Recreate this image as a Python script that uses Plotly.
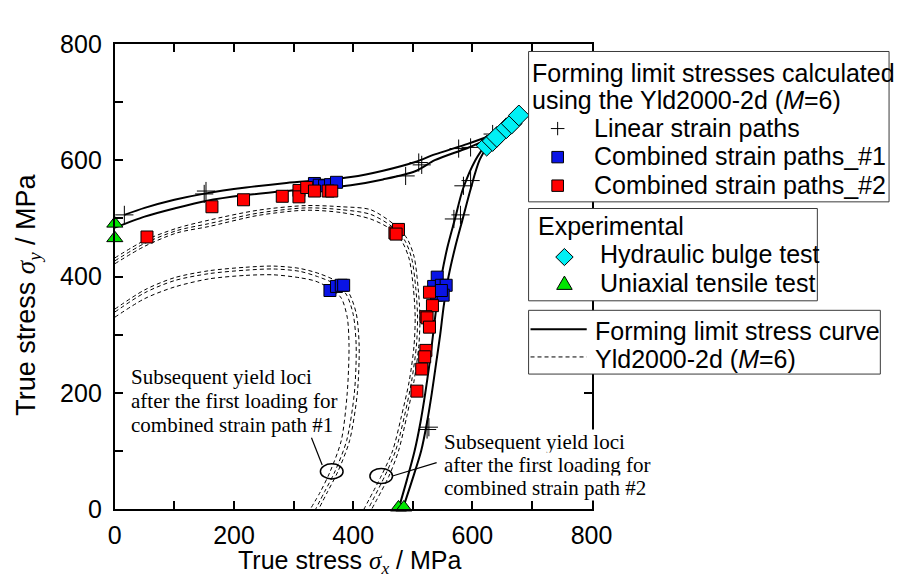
import plotly.graph_objects as go

W, H = 904, 578

# ---------------- data (MPa) ----------------
# Forming limit stress curves (two computed curves), split into the
# plane-strain-side branch and the uniaxial-side branch
flsc1_upper_x = [16, 50, 100, 153, 220, 288, 350, 396, 450, 504, 537, 592, 638]
flsc1_upper_y = [506, 518, 532, 543, 553, 561, 566, 571, 582, 597, 610, 628, 645]
flsc1_right_x = [638, 612, 597, 584, 571, 560, 552, 546, 539, 532, 524, 514, 499, 483]
flsc1_right_y = [645, 600, 550, 500, 450, 400, 350, 300, 250, 200, 150, 100, 50, 0]

flsc2_upper_x = [0, 50, 100, 153, 220, 288, 350, 396, 450, 504, 537, 592, 630]
flsc2_upper_y = [484, 503, 517, 530, 540, 547, 552, 557, 567, 581, 600, 621, 638]
flsc2_right_x = [630, 605, 584, 571, 558, 548, 540, 534, 528, 521, 513, 503, 490, 476]
flsc2_right_y = [638, 600, 550, 500, 450, 400, 350, 300, 250, 200, 150, 100, 50, 0]

# Subsequent yield loci after first loading, combined strain path #1
loc1a_x = [0, 50, 100, 158, 220, 266, 310, 337, 364, 380, 390, 393, 390, 380, 361, 345, 328]
loc1a_y = [330, 362, 382, 396, 402, 403, 398, 392, 378, 363, 330, 281, 200, 118, 64, 30, 0]
loc1b_x = [0, 50, 100, 158, 220, 266, 310, 340, 368, 388, 400, 405, 402, 389, 369, 352, 337]
loc1b_y = [339, 372, 393, 405, 411, 413, 409, 400, 388, 370, 335, 281, 200, 118, 64, 30, 0]
loc1c_x = [0, 50, 100, 158, 220, 266, 310, 343, 372, 392, 405, 410, 407, 394, 374, 357, 342]
loc1c_y = [344, 377, 398, 410, 416, 418, 414, 405, 392, 373, 337, 281, 200, 118, 64, 30, 0]

# Subsequent yield loci after first loading, combined strain path #2
loc2a_x = [0, 50, 104, 158, 240, 320, 380, 429, 462, 482, 494, 501, 504, 502, 494, 481, 466, 447, 418]
loc2a_y = [422, 452, 475, 486, 505, 514, 510, 499, 482, 460, 430, 380, 330, 280, 220, 160, 100, 57, 0]
loc2b_x = [0, 50, 104, 158, 240, 320, 380, 429, 465, 486, 498, 505, 508, 506, 498, 486, 471, 453, 425]
loc2b_y = [427, 457, 479, 491, 509, 518, 515, 507, 486, 463, 432, 380, 330, 280, 220, 160, 100, 57, 0]
loc2c_x = [0, 50, 104, 158, 240, 320, 380, 429, 468, 490, 502, 509, 512, 510, 502, 490, 476, 460, 431]
loc2c_y = [432, 462, 483, 497, 514, 522, 520, 515, 490, 466, 435, 380, 330, 280, 220, 160, 100, 57, 0]

# Forming limit stresses (calculated)
linear_x = [16, 150, 153, 488, 510, 515, 577, 597, 634, 585, 597, 569, 580, 524, 527, 467]
linear_y = [506, 542, 547, 573, 596, 592, 620, 622, 645, 556, 565, 499, 506, 137, 141, -16]

comb1_x = [335, 343, 352, 362, 372, 361, 372, 380, 384, 541, 535, 548, 556, 540, 551, 548]
comb1_y = [560, 557, 556, 558, 562, 376, 383, 385, 385, 399, 383, 385, 385, 368, 368, 376]

comb2_x = [54, 163, 216, 281, 309, 309, 322, 335, 358, 364, 470, 476, 472,
           528, 533, 522, 528, 524, 528, 522, 520, 515, 507]
comb2_y = [468, 520, 532, 538, 548, 537, 553, 547, 547, 547, 475, 481, 473,
           373, 350, 331, 314, 329, 313, 273, 262, 241, 203]

# Experimental
bulge_x = [624, 634, 641, 657, 666, 678]
bulge_y = [625, 633, 640, 655, 663, 677]
uniax_x = [0, 0, 476, 485]
uniax_y = [491, 466, 3, 3]

tick_vals = [0, 100, 200, 300, 400, 500, 600, 700, 800]
tick_text = ["0", "", "200", "", "400", "", "600", "", "800"]

# ---------------- figure ----------------
SANS = "Arial, Liberation Sans, sans-serif"
SERIF = "Times New Roman, Liberation Serif, serif"

fig = go.Figure()

dash_style = dict(color="black", width=1, dash="4px,3px")
for xs, ys in [(loc1a_x, loc1a_y), (loc1b_x, loc1b_y), (loc1c_x, loc1c_y),
               (loc2a_x, loc2a_y), (loc2b_x, loc2b_y), (loc2c_x, loc2c_y)]:
    fig.add_trace(go.Scatter(x=xs, y=ys, mode="lines", line=dict(shape="spline", smoothing=0.8, **dash_style),
                             hoverinfo="skip"))

solid = dict(color="black", width=2, shape="spline", smoothing=0.8)
for xs, ys in [(flsc1_upper_x, flsc1_upper_y), (flsc1_right_x, flsc1_right_y),
               (flsc2_upper_x, flsc2_upper_y), (flsc2_right_x, flsc2_right_y)]:
    fig.add_trace(go.Scatter(x=xs, y=ys, mode="lines", line=solid))

fig.add_trace(go.Scatter(x=linear_x, y=linear_y, mode="markers", cliponaxis=False,
                         marker=dict(symbol="cross-thin", size=13, line=dict(color="black", width=1))))
fig.add_trace(go.Scatter(x=comb1_x, y=comb1_y, mode="markers", cliponaxis=False,
                         marker=dict(symbol="square", size=12, color="#0a14e6", line=dict(color="black", width=1))))
fig.add_trace(go.Scatter(x=comb2_x, y=comb2_y, mode="markers", cliponaxis=False,
                         marker=dict(symbol="square", size=12, color="#ff0000", line=dict(color="black", width=1))))
fig.add_trace(go.Scatter(x=bulge_x, y=bulge_y, mode="markers", cliponaxis=False,
                         marker=dict(symbol="diamond", size=16, color="#00f0f5", line=dict(color="black", width=1))))
fig.add_trace(go.Scatter(x=uniax_x, y=uniax_y, mode="markers", cliponaxis=False,
                         marker=dict(symbol="triangle-up", size=14, color="#00e600", line=dict(color="black", width=1))))

# ---------------- helpers (pixel -> paper) ----------------
def X(px):
    return px / W

def Y(py):
    return 1 - py / H

shapes = []
annotations = []

# ellipses and leader lines (data coordinates)
shapes.append(dict(type="circle", xref="x", yref="y", x0=345, x1=383, y0=52, y1=78,
                   line=dict(color="black", width=1.5), layer="above"))
shapes.append(dict(type="circle", xref="x", yref="y", x0=428, x1=466, y0=44, y1=70,
                   line=dict(color="black", width=1.5), layer="above"))
shapes.append(dict(type="line", xref="x", yref="y", x0=330, y0=123, x1=348, y1=76,
                   line=dict(color="black", width=1.2), layer="above"))
shapes.append(dict(type="line", xref="x", yref="y", x0=466, y0=57, x1=540, y1=80,
                   line=dict(color="black", width=1.2), layer="above"))

# legend boxes
def box(x0, y0, x1, y1):
    shapes.append(dict(type="rect", xref="paper", yref="paper", x0=X(x0), x1=X(x1),
                       y0=Y(y1), y1=Y(y0), fillcolor="white",
                       line=dict(color="#3a3a3a", width=1), layer="above"))

box(530, 31, 902, 189)
box(530, 196, 828, 293)
box(530, 303, 893, 370)

def sq(cx, cy, color, s=12):
    shapes.append(dict(type="rect", xref="paper", yref="paper", x0=X(cx - s / 2), x1=X(cx + s / 2),
                       y0=Y(cy + s / 2), y1=Y(cy - s / 2), fillcolor=color,
                       line=dict(color="black", width=1), layer="above"))

def poly(points, color):
    p = "M " + " L ".join(f"{X(a):.5f},{Y(b):.5f}" for a, b in points) + " Z"
    shapes.append(dict(type="path", xref="paper", yref="paper", path=p, fillcolor=color,
                       line=dict(color="black", width=1), layer="above"))

def seg(x0, y0, x1, y1, width=1, dash="solid"):
    shapes.append(dict(type="line", xref="paper", yref="paper", x0=X(x0), y0=Y(y0), x1=X(x1), y1=Y(y1),
                       line=dict(color="black", width=width, dash=dash), layer="above"))

# box 1 symbols
seg(553, 112, 567, 112)
seg(560, 105, 560, 119)
sq(560, 142, "#0a14e6")
sq(560, 172, "#ff0000")
# box 2 symbols
poly([(567, 238), (576, 247), (567, 256), (558, 247)], "#00f0f5")
poly([(567, 267), (575, 281), (559, 281)], "#00e600")
# box 3 symbols
seg(532, 323, 590, 323, width=2)
seg(532, 352, 590, 352, width=1, dash="4px,3px")

def text(px, py_center, s, size=25, family=SANS, anchor="left", bg=None):
    a = dict(xref="paper", yref="paper", x=X(px), y=Y(py_center), text=s, showarrow=False,
             xanchor=anchor, yanchor="middle", font=dict(family=family, size=size, color="black"),
             borderpad=0)
    if bg:
        a["bgcolor"] = bg
    annotations.append(a)

# legend texts (centre = baseline - 0.35*size)
text(532, 53.3, "Forming limit stresses calculated")
text(532, 82.3, "using the Yld2000-2d (<i>M</i>=6)")
text(596, 111.3, "Linear strain paths")
text(596, 141.3, "Combined strain paths_#1")
text(596, 171.3, "Combined strain paths_#2")
text(539, 214.3, "Experimental")
text(603, 244.3, "Hydraulic bulge test")
text(603, 274.3, "Uniaxial tensile test")
text(597, 324.3, "Forming limit stress curve")
text(597, 354.3, "Yld2000-2d (<i>M</i>=6)")

# plot annotations (serif)
for py, s in [(373, "Subsequent yield loci"), (398, "after the first loading for"),
              (423, "combined strain path #1")]:
    text(119, py, s, size=21, family=SERIF)
for py, s in [(441, "Subsequent yield loci"), (466, "after the first loading for"),
              (490, "combined strain path #2")]:
    text(442, py, s, size=21, family=SERIF, bg="white")

# axis titles
sig = "<span style='font-family:Liberation Serif, Times New Roman, serif'><i>σ</i><sub><i>%s</i></sub></span>"
text(346, 568, "True stress " + (sig % "x") + " / MPa", size=25, anchor="center")
annotations.append(dict(xref="paper", yref="paper", x=X(14), y=Y(287), text="True stress " + (sig % "y") + " / MPa",
                        showarrow=False, textangle=-90, xanchor="center", yanchor="middle",
                        font=dict(family=SANS, size=27, color="black")))

axis_common = dict(range=[0, 800], tickvals=tick_vals, ticktext=tick_text, ticks="inside",
                   ticklen=8, tickwidth=1.5, tickcolor="black", showline=True, linewidth=2,
                   linecolor="black", mirror="ticks", showgrid=False, zeroline=False,
                   tickfont=dict(family=SANS, size=25, color="black"))

fig.update_layout(
    width=W, height=H, margin=dict(l=0, r=0, t=0, b=0),
    paper_bgcolor="white", plot_bgcolor="white", showlegend=False,
    xaxis=dict(domain=[103 / W, 595 / W], ticklabelstandoff=3, **axis_common),
    yaxis=dict(domain=[(H - 512) / H, (H - 23) / H], ticklabelstandoff=6, **axis_common),
    shapes=shapes, annotations=annotations,
)

fig.write_html("out.html")
